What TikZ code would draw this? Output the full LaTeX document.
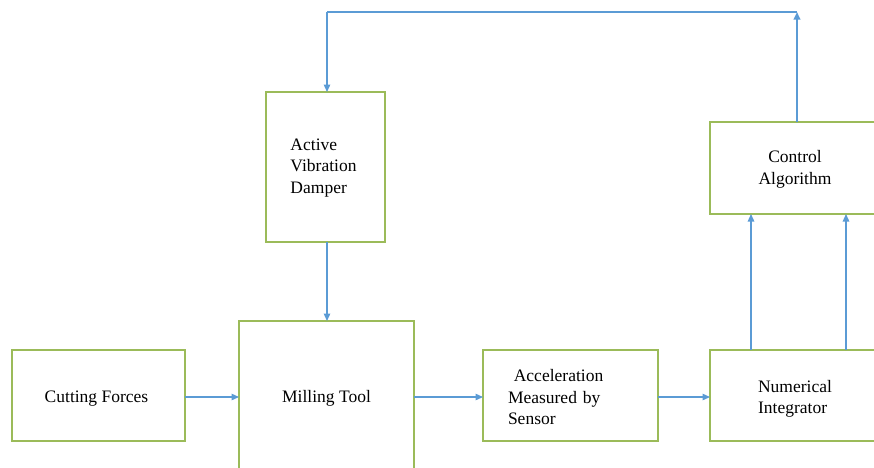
\documentclass[tikz,border=0pt]{standalone}
\usepackage{fontspec}
\setmainfont{Liberation Serif}
\usetikzlibrary{arrows.meta}
\definecolor{boxgreen}{RGB}{155,187,89}
\definecolor{arrblue}{RGB}{91,155,213}
\tikzset{
  txt/.style={font=\fontsize{17.5}{21.5}\selectfont},
  box/.style={draw=boxgreen, line width=1.4pt, fill=white, inner sep=0pt, outer sep=0pt, txt},
  arr/.style={draw=arrblue, line width=1.3pt, -{Triangle[length=7.5pt,width=6.5pt]}},
  line/.style={draw=arrblue, line width=1.3pt}
}
\begin{document}
\begin{tikzpicture}[x=1pt,y=-1pt]
\useasboundingbox (0,0) rectangle (874,467);
\clip (0,0) rectangle (874,467);
\node[box, minimum width=173pt, minimum height=91pt,
  label={[yshift=-3pt,xshift=-2pt,txt]center:Cutting Forces}] (cf) at (98.5,395.5) {};
\node[box, minimum width=175pt, minimum height=160pt,
  label={[yshift=2.5pt,txt]center:Milling Tool}] (mt) at (326.5,401) {};
\node[box, minimum width=175pt, minimum height=91pt,
  label={[yshift=-2pt,txt,text width=125pt,align=left]center:\ Acceleration\\Measured by\\Sensor}] (acc) at (570.5,395.5) {};
\node[box, minimum width=170pt, minimum height=91pt,
  label={[yshift=-3.5pt,txt,align=left]center:Numerical\\Integrator}] (ni) at (795,395.5) {};
\node[box, minimum width=170pt, minimum height=92pt,
  label={[yshift=-1.5pt,txt,align=center]center:Control\\Algorithm}] (ca) at (795,168) {};
\node[box, minimum width=119pt, minimum height=150pt,
  label={[yshift=-1pt,xshift=-2pt,txt,align=left]center:Active\\Vibration\\Damper}] (avd) at (325.5,167) {};
\coordinate (tr) at (797,12);
\coordinate (tl) at (327,12);
\draw[arr] ([yshift=-1.5pt]cf.east) -- ([yshift=-1.5pt]mt.west |- cf.east);
\draw[arr] ([xshift=1.5pt]avd.south) -- ([xshift=1.5pt]avd.south |- mt.north);
\draw[arr] ([yshift=-1.5pt]mt.east |- acc.west) -- ([yshift=-1.5pt]acc.west);
\draw[arr] ([yshift=-1.5pt]acc.east) -- ([yshift=-1.5pt]ni.west);
\draw[arr] ([xshift=41pt]ni.north west) -- ([xshift=41pt]ca.south west);
\draw[arr] ([xshift=136pt]ni.north west) -- ([xshift=136pt]ca.south west);
\draw[arr, line width=2.2pt] ([xshift=2pt]ca.north) -- (tr);
\draw[line] (tr) -- (tl);
\draw[arr] (tl) -- (tl |- avd.north);
\end{tikzpicture}
\end{document}
